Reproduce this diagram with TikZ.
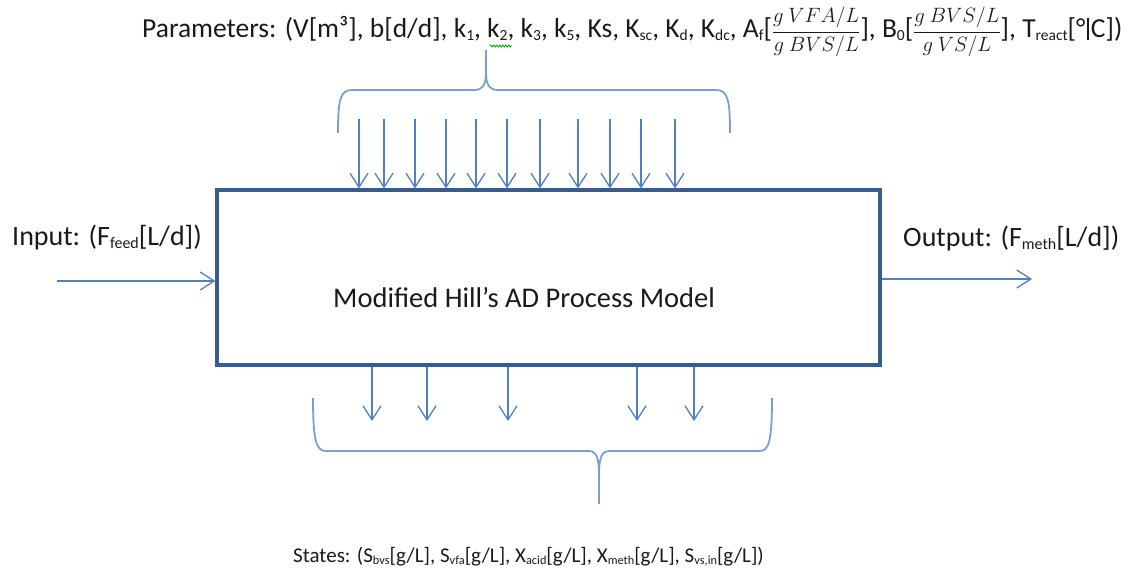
\documentclass[tikz,border=0pt]{standalone}
\usepackage{fontspec}
\setmainfont{Carlito}
\usetikzlibrary{arrows.meta,decorations.pathmorphing}
\definecolor{arrblue}{HTML}{4F81BD}
\definecolor{boxblue}{HTML}{385D8A}
\definecolor{braceblue}{HTML}{7A9FD0}
\definecolor{txt}{HTML}{1A1A1A}
\def\subsz{15}
\newcommand{\sbs}[1]{\raisebox{-0.12em}{\fontsize{\subsz}{\subsz}\selectfont #1}}
\newcommand{\unitfrac}[2]{{\fontsize{21}{21}\selectfont$\displaystyle\frac{#1}{#2}$}}
\begin{document}
\begin{tikzpicture}[x=1pt,y=-1pt,
  lbl/.style={inner sep=0pt,anchor=base west,text=txt},
  flow/.style={draw=arrblue,line width=1.3pt,-{Straight Barb[length=14pt,width=18pt,line width=1.3pt]}},
  bracepath/.style={draw=braceblue,line width=1.8pt},
  mainbox/.style={draw=boxblue,line width=3.2pt,minimum width=663pt,minimum height=175pt,inner sep=0pt}]
\useasboundingbox (0,0) rectangle (1134,574);
\node[mainbox] (box) at (548.5,277.5) {};
\node[lbl,font=\fontsize{28.5}{32}\selectfont] (model) at (333,307) {Modified Hill’s AD Process Model};
\node[lbl,font=\fontsize{27.5}{30}\selectfont] (params) at (142,37) {\def\subsz{15.5}Parameters: (V[m³], b[d/d], k\sbs{1}, k\sbs{2}, k\sbs{3}, k\sbs{5}, Ks, K\sbs{sc}, K\sbs{d}, K\sbs{dc}, A\sbs{f}[\unitfrac{g\ VFA/L}{g\ BVS/L}], B\sbs{0}[\unitfrac{g\ BVS/L}{g\ VS/L}], T\sbs{react}[°\kern1.5pt\rule[-3pt]{2.5pt}{22pt}\kern1.5pt C])};
\node[lbl,font=\fontsize{28}{32}\selectfont] (inp) at (12,245) {\def\subsz{16}Input: (F\sbs{feed}[L/d])};
\node[lbl,font=\fontsize{28}{32}\selectfont] (outp) at (903,246) {\def\subsz{16}Output: (F\sbs{meth}[L/d])};
\node[lbl,font=\fontsize{21}{25}\selectfont] (states) at (293,562) {\def\subsz{12.3}States: (S\sbs{bvs}[g/L], S\sbs{vfa}[g/L], X\sbs{acid}[g/L], X\sbs{meth}[g/L], S\sbs{vs,in}[g/L])};
% spell-check squiggle
\coordinate (sq1) at (490,46);
\coordinate (sq2) at (512,46);
\draw[draw=green!60!black,line width=0.8pt,decorate,decoration={zigzag,segment length=3pt,amplitude=1pt}] (sq1) -- (sq2);
% top brace
\coordinate (tbL) at (338,133);
\coordinate (tbR) at (730,133);
\coordinate (tbT) at (486,50);
\draw[bracepath] (tbL) .. controls (338,100) and (340,90) .. (352,90) -- (474,90) .. controls (482,90) and (486,86) .. (486,72) -- (tbT);
\draw[bracepath] (486,72) .. controls (486,86) and (490,90) .. (498,90) -- (716,90) .. controls (728,90) and (730,100) .. (tbR);
% top arrows
\foreach \x [count=\i] in {359,384,415,446,476,507,540,578,610,641,675} {
  \coordinate (ta\i) at (\x,119);
  \coordinate (tb\i) at (\x,190);
}
\draw[flow,line width=2.4pt] (ta1) -- (box.north -| tb1);
\foreach \i in {2,...,11} { \draw[flow] (ta\i) -- (box.north -| tb\i); }
% bottom arrows
\foreach \x [count=\i] in {372,427,508,637,694} {
  \coordinate (be\i) at (\x,421);
  \draw[flow] (box.south -| be\i) -- (be\i);
}
% bottom brace
\coordinate (bbL) at (313,398);
\coordinate (bbR) at (772,398);
\coordinate (bbT) at (599,504);
\draw[bracepath] (bbL) .. controls (313,440) and (316,451) .. (326,451) -- (588,451) .. controls (596,451) and (599,456) .. (599,476) -- (bbT);
\draw[bracepath] (599,476) .. controls (599,456) and (602,451) .. (610,451) -- (760,451) .. controls (769,451) and (772,440) .. (bbR);
% input / output
\coordinate (inStart) at (57,281);
\coordinate (outEnd) at (1032,279);
\draw[flow] (inStart) -- (box.west |- inStart);
\draw[flow] (box.east |- outEnd) -- (outEnd);
\end{tikzpicture}
\end{document}
